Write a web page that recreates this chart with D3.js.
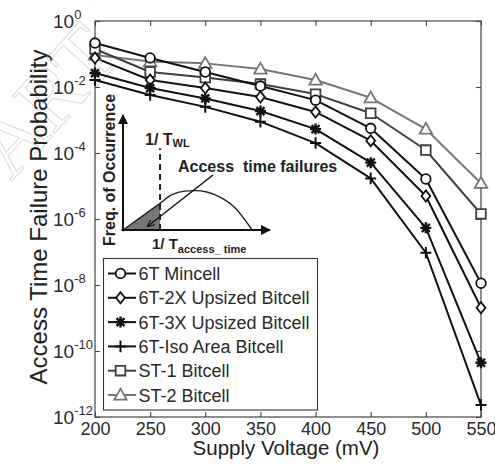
<!DOCTYPE html>
<html>
<head>
<meta charset="utf-8">
<script src="https://cdn.jsdelivr.net/npm/d3@7"></script>
<style>
  html, body { margin: 0; padding: 0; background: #fff; }
  svg { display: block; font-family: Arial, "Liberation Sans", sans-serif; }
</style>
</head>
<body>
<svg id="chart" width="495" height="465"></svg>
<script>
// Supply voltage sweep (mV)
const voltages = [200, 250, 300, 350, 400, 450, 500, 550];

// Access time failure probability per bitcell design
const mincell6T   = [2.15e-1, 7.6e-2, 2.85e-2, 1.07e-2, 4.0e-3, 5.6e-4, 1.63e-5, 1.13e-8];
const upsized2X   = [7.6e-2, 1.63e-2, 9.3e-3, 5.0e-3, 1.75e-3, 2.36e-4, 5.0e-6, 2.05e-9];
const upsized3X   = [2.65e-2, 9.3e-3, 4.5e-3, 1.87e-3, 5.3e-4, 5.1e-5, 5.4e-7, 4.4e-11];
const isoArea6T   = [1.63e-2, 5.7e-3, 2.5e-3, 8.9e-4, 2.0e-4, 1.7e-5, 9.5e-8, 2.3e-12];
const st1Bitcell  = [1.42e-1, 2.85e-2, 1.94e-2, 1.23e-2, 6.1e-3, 1.6e-3, 1.23e-4, 1.42e-6];
const st2Bitcell  = [9.3e-2, 5.9e-2, 5.2e-2, 3.5e-2, 1.63e-2, 4.7e-3, 5.3e-4, 1.21e-5];

const seriesNames = ["6T Mincell", "6T-2X Upsized Bitcell", "6T-3X Upsized Bitcell",
                     "6T-Iso Area Bitcell", "ST-1 Bitcell", "ST-2 Bitcell"];

// Axis ticks
const xTicks = [200, 250, 300, 350, 400, 450, 500, 550];
const yTickExponents = [0, -2, -4, -6, -8, -10, -12];

const series = [
  { name: seriesNames[0], values: mincell6T,  marker: "circle",   color: "#111" },
  { name: seriesNames[1], values: upsized2X,  marker: "diamond",  color: "#111" },
  { name: seriesNames[2], values: upsized3X,  marker: "asterisk", color: "#111" },
  { name: seriesNames[3], values: isoArea6T,  marker: "plus",     color: "#111" },
  { name: seriesNames[4], values: st1Bitcell, marker: "square",   color: "#3f3f3f" },
  { name: seriesNames[5], values: st2Bitcell, marker: "triangle", color: "#767676" }
];

const svg = d3.select("#chart");
const W = 495, H = 465;
const margin = { left: 95, right: 14, top: 21, bottom: 48 };
const plotL = margin.left, plotR = W - margin.right, plotT = margin.top, plotB = H - margin.bottom;

const x = d3.scaleLinear().domain([200, 550]).range([plotL, plotR]);
const y = d3.scaleLog().domain([1e-12, 1]).range([plotB, plotT]);

// faint outlined stamp lettering in the corner
svg.append("text")
  .attr("transform", "translate(11,182) rotate(-48)")
  .attr("font-size", 86)
  .attr("font-family", "'Liberation Serif', serif")
  .attr("fill", "none")
  .attr("stroke", "#e0e0e0")
  .attr("stroke-width", 1.2)
  .text("ART");

// marker shapes
function markerPath(type) {
  switch (type) {
    case "circle":   return d3.symbol(d3.symbolCircle, 72)();
    case "square":   return "M-4.8,-4.8H4.8V4.8H-4.8Z";
    case "triangle": return "M0,-6.3L6.2,4.6H-6.2Z";
    case "diamond":  return "M0,-5.6L4.4,0L0,5.6L-4.4,0Z";
    case "plus":     return "M-5.5,0H5.5M0,-5.8V5.8";
    case "asterisk": return "M-5.5,0H5.5M0,-5.5V5.5M-4,-4L4,4M-4,4L4,-4";
  }
}
function drawMarker(g, type, color) {
  const p = g.append("path").attr("d", markerPath(type)).attr("stroke", color);
  if (type === "plus" || type === "asterisk") {
    p.attr("fill", "none").attr("stroke-width", type === "asterisk" ? 2.4 : 2);
  } else {
    p.attr("fill", "#fff").attr("stroke-width", 1.8);
  }
}

// frame with inward ticks on all sides
const axisColor = "#444";
const gx = svg.append("g").attr("transform", `translate(0,${plotB})`)
  .call(d3.axisBottom(x).tickValues(xTicks).tickSize(-5).tickPadding(5).tickFormat(d3.format("d")));
const gxTop = svg.append("g").attr("transform", `translate(0,${plotT})`)
  .call(d3.axisTop(x).tickValues(xTicks).tickSize(-5).tickFormat(""));
const yTickVals = yTickExponents.map(e => Math.pow(10, e));
const gy = svg.append("g").attr("transform", `translate(${plotL},0)`)
  .call(d3.axisLeft(y).tickValues(yTickVals).tickSize(-5).tickFormat(""));
const gyR = svg.append("g").attr("transform", `translate(${plotR},0)`)
  .call(d3.axisRight(y).tickValues(yTickVals).tickSize(-5).tickFormat(""));
[gx, gxTop, gy, gyR].forEach(g => {
  g.select(".domain").remove();
  g.selectAll(".tick line").attr("stroke", axisColor).attr("stroke-width", 1.1);
});
gx.selectAll(".tick text").attr("font-size", 18).attr("fill", "#2a2a2a")
  .attr("font-family", "Arial, 'Liberation Sans', sans-serif");

svg.append("rect")
  .attr("x", plotL).attr("y", plotT).attr("width", plotR - plotL).attr("height", plotB - plotT)
  .attr("fill", "none").attr("stroke", axisColor).attr("stroke-width", 1.2);

// y tick labels as powers of ten
const yLab = svg.append("g").attr("fill", "#2a2a2a");
yTickExponents.forEach(e => {
  const t = yLab.append("text")
    .attr("x", 53).attr("y", y(Math.pow(10, e)) + 7)
    .attr("font-size", 19);
  t.append("tspan").text("10");
  t.append("tspan").attr("dy", -9).attr("font-size", 13).text(e === 0 ? "0" : "-" + Math.abs(e));
});

// axis titles
svg.append("text")
  .attr("x", (plotL + plotR) / 2 - 2).attr("y", 455)
  .attr("text-anchor", "middle").attr("font-size", 20.5).attr("fill", "#222")
  .text("Supply Voltage (mV)");
svg.append("text")
  .attr("transform", `translate(47,${(58 + 376) / 2}) rotate(-90)`)
  .attr("text-anchor", "middle").attr("font-size", 24).attr("fill", "#222")
  .text("Access Time Failure Probability");

// schematic inset: distribution of 1/T_access_time against the 1/T_WL limit
const ix = d3.scaleLinear().domain([0, 1]).range([123, 270]);
const iy = d3.scaleLinear().domain([0, 1]).range([230, 115]);
const twlPos = 0.252;
const distCurve = [[0, 0], [0.252, 0.232], [0.33, 0.305], [0.42, 0.338], [0.49, 0.342],
                   [0.57, 0.33], [0.66, 0.285], [0.76, 0.195], [0.878, 0]];
const failArea = [[0, 0], [0.252, 0.232], [0.252, 0]];

const inset = svg.append("g");
const defs = svg.append("defs");
defs.append("marker").attr("id", "solidHead")
  .attr("viewBox", "0 0 10 10").attr("refX", 9).attr("refY", 5)
  .attr("markerWidth", 5).attr("markerHeight", 5).attr("orient", "auto")
  .append("path").attr("d", "M0,0L10,5L0,10Z").attr("fill", "#111");
defs.append("marker").attr("id", "openHead")
  .attr("viewBox", "0 0 10 10").attr("refX", 9).attr("refY", 5)
  .attr("markerWidth", 7).attr("markerHeight", 7).attr("orient", "auto")
  .attr("markerUnits", "userSpaceOnUse")
  .append("path").attr("d", "M0,0L10,5L0,10").attr("fill", "none")
  .attr("stroke", "#111").attr("stroke-width", 1.6);

inset.append("path")
  .attr("d", d3.line().x(d => ix(d[0])).y(d => iy(d[1]))(failArea) + "Z")
  .attr("fill", "#777");
inset.append("path")
  .attr("d", d3.line().x(d => ix(d[0])).y(d => iy(d[1])).curve(d3.curveMonotoneX)(distCurve))
  .attr("fill", "none").attr("stroke", "#222").attr("stroke-width", 1.4);
inset.append("line")
  .attr("x1", ix(twlPos)).attr("x2", ix(twlPos)).attr("y1", iy(0)).attr("y2", iy(0.71))
  .attr("stroke", "#222").attr("stroke-width", 2).attr("stroke-dasharray", "6,4");
inset.append("line")
  .attr("x1", ix(0)).attr("y1", iy(-0.01)).attr("x2", ix(0)).attr("y2", iy(1))
  .attr("stroke", "#111").attr("stroke-width", 2).attr("marker-end", "url(#solidHead)");
inset.append("line")
  .attr("x1", ix(-0.01)).attr("y1", iy(0)).attr("x2", ix(1)).attr("y2", iy(0))
  .attr("stroke", "#111").attr("stroke-width", 2).attr("marker-end", "url(#solidHead)");
inset.append("line")
  .attr("x1", 213).attr("y1", 175).attr("x2", 148).attr("y2", 226)
  .attr("stroke", "#111").attr("stroke-width", 1.5).attr("marker-end", "url(#openHead)");

const insetText = inset.append("g").attr("font-weight", "bold").attr("fill", "#222");
const twl = insetText.append("text").attr("x", 145).attr("y", 145).attr("font-size", 16);
twl.append("tspan").text("1/ T");
twl.append("tspan").attr("dy", 2).attr("font-size", 11).text("WL");
insetText.append("text").attr("x", 178).attr("y", 172).attr("font-size", 16)
  .attr("xml:space", "preserve").text("Access  time failures");
const tac = insetText.append("text").attr("x", 152).attr("y", 249).attr("font-size", 15);
tac.append("tspan").text("1/ T");
tac.append("tspan").attr("dy", 4).attr("font-size", 11).text("access_ time");
insetText.append("text")
  .attr("transform", "translate(115,170) rotate(-90)")
  .attr("text-anchor", "middle").attr("font-size", 16)
  .text("Freq. of Occurrence");

// data series (grey designs underneath)
const line = d3.line().x((d, i) => x(voltages[i])).y(d => y(d));
const drawOrder = [5, 4, 0, 1, 2, 3];
drawOrder.forEach(k => {
  const s = series[k];
  svg.append("path").attr("d", line(s.values))
    .attr("fill", "none").attr("stroke", s.color).attr("stroke-width", 2)
    .attr("stroke-linejoin", "round");
});
drawOrder.forEach(k => {
  const s = series[k];
  s.values.forEach((v, i) => {
    const g = svg.append("g").attr("transform", `translate(${x(voltages[i])},${y(v)})`);
    drawMarker(g, s.marker, s.color);
  });
});

// legend
const lg = svg.append("g");
lg.append("rect").attr("x", 103.5).attr("y", 258.5).attr("width", 214).attr("height", 151.5)
  .attr("fill", "#fff").attr("stroke", "#333").attr("stroke-width", 1.1);
series.forEach((s, i) => {
  const cy = 273.5 + i * 24.3;
  const row = lg.append("g");
  row.append("line").attr("x1", 108).attr("x2", 136).attr("y1", cy).attr("y2", cy)
    .attr("stroke", s.color).attr("stroke-width", 2);
  drawMarker(row.append("g").attr("transform", `translate(120.5,${cy})`), s.marker, s.color);
  row.append("text").attr("x", 138.5).attr("y", cy + 6.5).attr("font-size", 18)
    .attr("fill", "#2a2a2a").text(s.name);
});
</script>
</body>
</html>
